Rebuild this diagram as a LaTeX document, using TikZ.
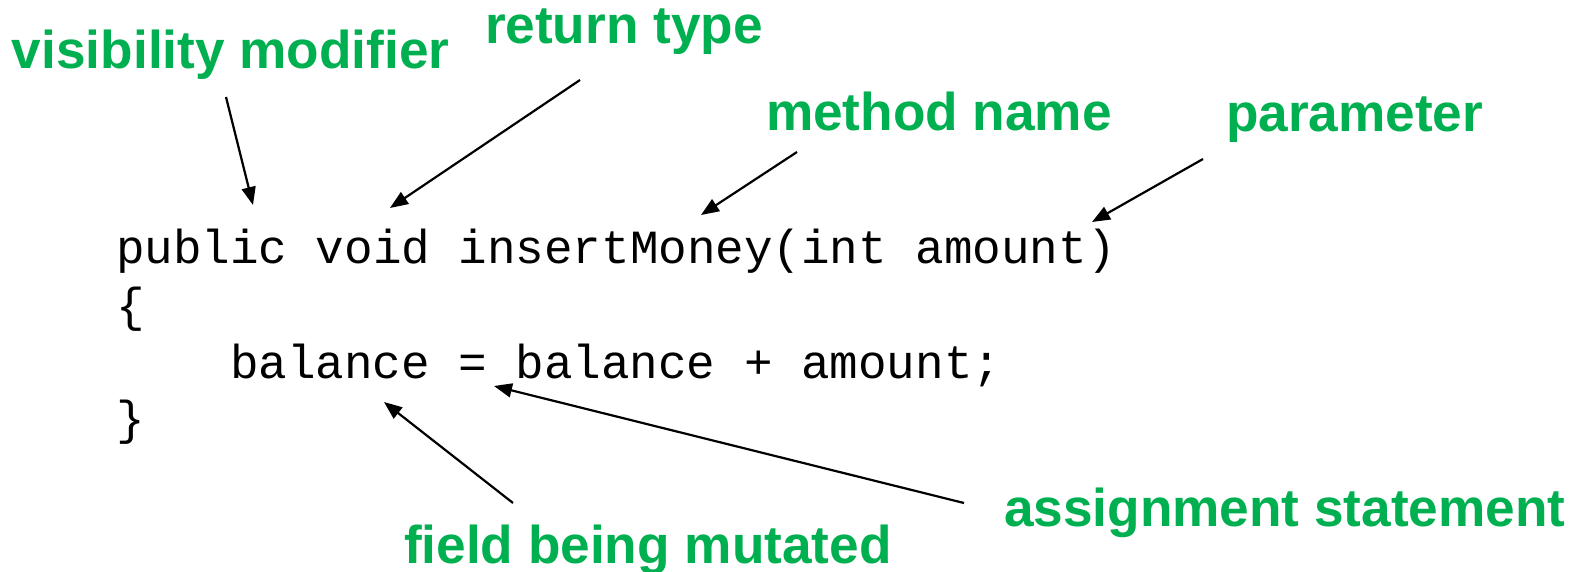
\documentclass[tikz,border=0pt]{standalone}
\usepackage{fontspec}
\usetikzlibrary{arrows.meta}
\newfontfamily\labelfont{Liberation Sans}[BoldFont={Liberation Sans Bold}]
\newfontfamily\codefont{Liberation Mono}
\definecolor{labelgreen}{HTML}{00B050}
\tikzset{
  lbl/.style={anchor=base west, inner sep=0pt, outer sep=0pt, text=labelgreen,
    font=\labelfont\bfseries\fontsize{53.2}{60}\selectfont},
  codeline/.style={anchor=base west, inner sep=0pt, outer sep=0pt, text=black,
    font=\codefont\fontsize{47.6}{56}\selectfont},
  pointer/.style={draw=black, line width=2.2pt,
    -{Triangle[length=18pt,width=14pt]}}
}
\begin{document}
\begin{tikzpicture}[x=1pt,y=-1pt]
\useasboundingbox (0,0) rectangle (1575,572);
\fill[white] (0,0) rectangle (1575,572);
% labels
\node[lbl] (vis) at (12,69) {visibility modifier};
\node[lbl] (ret) at (485,44) {return type};
\node[lbl] (meth) at (766,131) {method name};
\node[lbl] (par) at (1226,132) {parameter};
\node[lbl] (assign) at (1004,526) {assignment statement};
\node[lbl] (field) at (404,563) {field being mutated};
% code
\node[codeline] (l1) at (116,264) {public void insertMoney(int amount)};
\node[codeline] (l2) at (116,321) {\{};
\node[codeline] (l3) at (230,378) {balance = balance + amount;};
\node[codeline] (l4) at (116,434) {\}};
% arrow ends
\coordinate (visS) at (226,97);
\coordinate (visT) at (253,205);
\coordinate (retS) at (580,80);
\coordinate (retT) at (390,208);
\coordinate (methS) at (797,152);
\coordinate (methT) at (701,215);
\coordinate (parS) at (1203,159);
\coordinate (parT) at (1092,222);
\coordinate (fieldS) at (513,503);
\coordinate (fieldT) at (384,402);
\coordinate (asgS) at (964,503);
\coordinate (asgT) at (494,386);
\draw[pointer] (visS) -- (visT);
\draw[pointer] (retS) -- (retT);
\draw[pointer] (methS) -- (methT);
\draw[pointer] (parS) -- (parT);
\draw[pointer] (fieldS) -- (fieldT);
\draw[pointer] (asgS) -- (asgT);
\end{tikzpicture}
\end{document}
